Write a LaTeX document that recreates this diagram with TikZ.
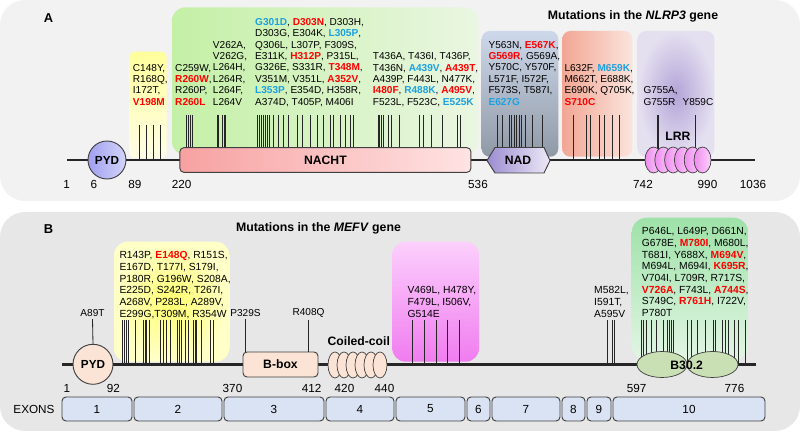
\documentclass[tikz,border=0pt]{standalone}
\usepackage{fontspec}
\setmainfont{Liberation Sans}
\usepackage{xcolor}
\usetikzlibrary{positioning}
\definecolor{PanelA}{HTML}{F2F2F2}
\definecolor{PanelB}{HTML}{E7E7E7}
\definecolor{MutRed}{HTML}{FF0000}
\definecolor{MutBlue}{HTML}{1BA1E2}
\definecolor{TickGray}{HTML}{262626}
\definecolor{EdgeGray}{HTML}{404040}
\definecolor{Peach}{HTML}{FBE4D5}
\definecolor{ExonBlue}{HTML}{DAE3F3}
\definecolor{OliveGreen}{HTML}{C9E0B4}
\definecolor{YellowA}{HTML}{FFFF9C}
\definecolor{YellowAPale}{HTML}{FFFDE6}
\definecolor{GreenAL}{HTML}{C4F0A6}
\definecolor{GreenAR}{HTML}{EAF6E2}
\definecolor{NachtL}{HTML}{F7A1A1}
\definecolor{NachtR}{HTML}{FFE3E3}
\definecolor{NadTop}{HTML}{CDD8EA}
\definecolor{NadBot}{HTML}{8F99A6}
\definecolor{NadHexL}{HTML}{9B8DD0}
\definecolor{NadHexR}{HTML}{EEE9F7}
\definecolor{SalmonL}{HTML}{F2A694}
\definecolor{SalmonR}{HTML}{FBE4DC}
\definecolor{LrrIn}{HTML}{B4A4D8}
\definecolor{LrrOut}{HTML}{E4E0F0}
\definecolor{LrrPinkL}{HTML}{EE8CEE}
\definecolor{LrrPinkR}{HTML}{FBD2FB}
\definecolor{PydBlueL}{HTML}{A0A0F0}
\definecolor{PydBlueR}{HTML}{D4D4FA}
\definecolor{YellowBIn}{HTML}{FFFF6E}
\definecolor{YellowBOut}{HTML}{FFFFC8}
\definecolor{PinkBTop}{HTML}{FCD0FC}
\definecolor{PinkBBot}{HTML}{F07CF0}
\definecolor{GreenBTop}{HTML}{9EE2A8}
\definecolor{GreenBBot}{HTML}{E2F5E4}
\newcommand{\mred}[1]{\textcolor{MutRed}{\textbf{#1}}}
\newcommand{\mblue}[1]{\textcolor{MutBlue}{\textbf{#1}}}

\begin{document}
\begin{tikzpicture}[x=0.03cm, y=-0.03cm,
    mutA/.style={anchor=north west, align=left, inner sep=0pt, font=\fontsize{8.6}{9.7}\selectfont},
    mutB/.style={anchor=north west, align=left, inner sep=0pt, font=\fontsize{8.8}{9.95}\selectfont},
    mutlabel/.style={inner sep=0pt, font=\fontsize{8.6}{10}\selectfont},
    mutline/.style={draw=TickGray, line width=0.7pt},
    backbone/.style={line width=2.4pt, black!85},
    domainbox/.style={draw=EdgeGray, line width=0.8pt, inner sep=0pt, font=\fontsize{10.4}{12}\selectfont\bfseries},
    posnum/.style={inner sep=0pt, font=\fontsize{10}{12}\selectfont},
    exonbox/.style={draw=EdgeGray, fill=ExonBlue, line width=0.8pt, rounded corners=0.12cm},
    paneltitle/.style={font=\fontsize{10.5}{12}\selectfont\bfseries}]
    \useasboundingbox (0,0) rectangle (800,432);

    % Panels
    \path[fill=PanelA, rounded corners=0.75cm] (0,0) rectangle (800,201);
    \path[fill=PanelB, rounded corners=0.75cm] (0,212) rectangle (800,431);
    \node[paneltitle, font=\fontsize{11}{13}\selectfont\bfseries] (labA) at (48.5,18.5) {A};
    \node[paneltitle, font=\fontsize{11}{13}\selectfont\bfseries] (labB) at (48.5,229) {B};
    \node[paneltitle] (titleA) at (633,16) {Mutations in the \textit{NLRP3} gene};
    \node[paneltitle] (titleB) at (318.5,228.3) {Mutations in the \textit{MEFV} gene};

    % ---------- NLRP3 ----------
    % Highlight boxes
    \path[rounded corners=0.18cm, top color=YellowA, bottom color=YellowAPale] (129.3,51.7) rectangle (166.7,158.3);
    \path[rounded corners=0.4cm, left color=GreenAL, right color=GreenAR] (172,7.3) rectangle (478.3,155);
    \path[rounded corners=0.24cm, top color=NadTop, bottom color=NadBot] (481.7,31) rectangle (558.3,156.7);
    \path[rounded corners=0.24cm, left color=SalmonL, right color=SalmonR] (562.3,31) rectangle (632.3,156.7);
    \path[rounded corners=0.24cm, inner color=LrrIn, outer color=LrrOut] (637.7,31) rectangle (714.3,156.7);

    % Mutation lists
    \node[mutA] (mutPre) at (132.7,63.8) {C148Y,\\ R168Q,\\ I172T,\\ \mred{V198M}};
    \node[mutA] (mutNa) at (175,63.8) {C259W,\\ \mred{R260W},\\ R260P,\\ \mred{R260L}};
    \node[mutA] (mutNb) at (212.7,41) {V262A,\\ V262G,\\ L264H,\\ L264R,\\ L264F,\\ L264V};
    \node[mutA] (mutNc) at (255,18.2) {\mblue{G301D}, \mred{D303N}, D303H,\\
        D303G, E304K, \mblue{L305P},\\
        Q306L, L307P, F309S,\\
        E311K, \mred{H312P}, P315L,\\
        G326E, S331R, \mred{T348M},\\
        V351M, V351L, \mred{A352V},\\
        \mblue{L353P}, E354D, H358R,\\
        A374D, T405P, M406I};
    \node[mutA] (mutNd) at (372.7,52.4) {T436A, T436I, T436P,\\
        T436N, \mblue{A439V}, \mred{A439T},\\
        A439P, F443L, N477K,\\
        \mred{I480F}, \mblue{R488K}, \mred{A495V},\\
        F523L, F523C, \mblue{E525K}};
    \node[mutA] (mutNad) at (488.3,41) {Y563N, \mred{E567K},\\
        \mred{G569R}, G569A,\\
        Y570C, Y570F,\\
        L571F, I572F,\\
        F573S, T587I,\\
        \mblue{E627G}};
    \node[mutA] (mutPost) at (564.3,63.8) {L632F, \mblue{M659K},\\ M662T, E688K,\\ E690K, Q705K,\\ \mred{S710C}};
    \node[mutA] (mutLrrA) at (643.3,86.6) {G755A,\\ G755R};
    \node[mutA] (mutLrrB) at (682.3,98) {Y859C};

    % Mutation ticks
    \foreach \x in {139,146,153,160}
        \draw[mutline] (\x,125) -- (\x,160);
    \foreach \x in {186.7,188.3,190.7,192.3,217,218.5,222.5,224,225.5,
                    257,259,261,263,265,267,269.5,273,278,283,288,297,302,310,317,323,330,333,340,345,350,353,
                    378,379.5,381,383,388,391,399,419,423,431,442,457,460}
        \draw[mutline] (\x,115) -- (\x,152);
    \foreach \x in {497.3,502,509.3,511.7,514.3,516.7,519.3,521.3,525,532.7,542.7}
        \draw[mutline] (\x,115) -- (\x,152);
    \foreach \x in {573.3,586.7,590,599,604,612.7,619.3}
        \draw[mutline] (\x,115) -- (\x,160);
    \draw[mutline, line width=1.6pt] (658,115) -- (658,155);
    \draw[mutline] (695,115) -- (695,155);

    % Backbone
    \coordinate (startA) at (67,160);
    \coordinate (endA) at (755,160);
    \draw[backbone] (startA) -- (endA);

    % Domains
    \node[domainbox, circle, minimum size=1.14cm, left color=PydBlueL, right color=PydBlueR, font=\fontsize{10}{12}\selectfont\bfseries] (pydA) at (107,160) {PYD};
    \node[domainbox, rectangle, rounded corners=0.12cm, minimum width=8.73cm, minimum height=0.74cm, left color=NachtL, right color=NachtR] (nacht) at (325.4,160) {NACHT};
    \path[draw=EdgeGray, line width=0.8pt, left color=NadHexL, right color=NadHexR] (487,160.5) -- (495,147.5) -- (544,147.5) -- (550,160.5) -- (544,173) -- (495,173) -- cycle;
    \node[domainbox, draw=none] (nad) at (518,160.5) {NAD};
    \foreach \i in {0,...,5}
        \path[draw=EdgeGray, line width=0.6pt, left color=LrrPinkL, right color=LrrPinkR] (653.5+9.8*\i,160) ellipse [x radius=0.255cm, y radius=0.39cm];
    \node[domainbox, draw=none] (lrr) at (678,136) {LRR};

    % Positions
    \foreach \x/\n in {66.7/1, 94/6, 135/89, 181.7/220, 478/536, 643/742, 707.5/990, 753/1036}
        \node[posnum] (numA\n) at (\x,184) {\n};

    % ---------- MEFV ----------
    % Highlight boxes
    \path[rounded corners=0.4cm, inner color=YellowBIn, outer color=YellowBOut] (114,241.7) rectangle (229.3,361.7);
    \path[rounded corners=0.4cm, top color=PinkBTop, bottom color=PinkBBot] (392.3,241.7) rectangle (479,361.7);
    \path[rounded corners=0.45cm, top color=GreenBTop, bottom color=GreenBBot] (631.7,217.7) rectangle (748.3,360);

    % Mutation lists
    \node[mutB] (mutEx2) at (119.3,251.3) {R143P, \mred{E148Q}, R151S,\\
        E167D, T177I, S179I,\\
        P180R, G196W, S208A,\\
        E225D, S242R, T267I,\\
        A268V, P283L, A289V,\\
        E299G,T309M, R354W};
    \node[mutB] (mutEx5) at (407.3,286.4) {V469L, H478Y,\\ F479L, I506V,\\ G514E};
    \node[mutB] (mutEx9) at (594,286.4) {M582L,\\ I591T,\\ A595V};
    \node[mutB] (mutEx10) at (641.7,227.5) {P646L, L649P, D661N,\\
        G678E, \mred{M780I}, M680L,\\
        T681I, Y688X, \mred{M694V},\\
        M694L, M694I, \mred{K695R},\\
        V704I, L709R, R717S,\\
        \mred{V726A}, F743L, \mred{A744S},\\
        S749C, \mred{R761H}, I722V,\\
        P780T};
    \node[mutlabel] (a89t) at (92.5,313) {A89T};
    \node[mutlabel] (p329s) at (245.5,313) {P329S};
    \node[mutlabel] (r408q) at (308.5,313) {R408Q};

    % Mutation ticks
    \foreach \x in {122.7,124,126.7,128,135,143.3,145,146.7,149.3,160,163.3,166.5,170,177,179.3,181,185,188.3,193.3,195,196.7,201.7,210,213.3}
        \draw[mutline] (\x,320) -- (\x,364);
    \foreach \x in {412,424,436,447,459}
        \draw[mutline] (\x,320) -- (\x,364);
    \foreach \x in {607.5,612,614.5}
        \draw[mutline] (\x,320) -- (\x,364);
    \foreach \x in {641,643,646,651,656,663,667,669,671,673,687,691,697,705,713,715,722,725,728,734,738,745}
        \draw[mutline] (\x,320) -- (\x,364);

    % Backbone
    \coordinate (startB) at (62,364.3);
    \coordinate (endB) at (756,364.3);
    \draw[backbone] (startB) -- (endB);

    % Domains
    \node[domainbox, circle, minimum size=1.2cm, fill=Peach, font=\fontsize{10}{12}\selectfont\bfseries] (pydB) at (93,364.3) {PYD};
    \node[domainbox, rectangle, rounded corners=0.12cm, minimum width=2.25cm, minimum height=0.75cm, fill=Peach] (bbox) at (280.5,364.5) {B-box};
    \foreach \i in {0,...,5}
        \path[draw=EdgeGray, line width=0.6pt, fill=Peach] (335+9*\i,365) ellipse [x radius=0.21cm, y radius=0.39cm];
    \node[domainbox, draw=none] (coil) at (358.8,341) {Coiled-coil};
    \path[draw=EdgeGray, line width=0.6pt, fill=OliveGreen] (662,364.5) ellipse [x radius=0.75cm, y radius=0.39cm];
    \path[draw=EdgeGray, line width=0.6pt, fill=OliveGreen] (712.5,364.5) ellipse [x radius=0.765cm, y radius=0.39cm];
    \node[domainbox, draw=none] (b30) at (686.7,365) {B30.2};

    % Single mutations
    \draw[mutline] ([yshift=-2pt]a89t.south) -- (pydB.north);
    \draw[mutline] ([yshift=-2pt]p329s.south) -- (p329s.south |- bbox.north);
    \draw[mutline] ([yshift=-2pt]r408q.south) -- (r408q.south |- bbox.north);

    % Positions
    \foreach \x/\n in {67/1, 113.5/92, 232.5/370, 311.7/412, 344.5/420, 384.5/440, 636.7/597, 734.5/776}
        \node[posnum] (numB\n) at (\x,388) {\n};

    % Exons
    \node[posnum] (exons) at (34,409) {EXONS};
    \foreach \xl/\xr/\num in {62/132/1, 134/222/2, 224/324/3, 326/394/4, 396/465/5, 467/490/6, 492/560/7, 562/585/8, 587/611/9, 613/765/10} {
        \path[exonbox] (\xl,397) rectangle (\xr,421);
        \node[posnum] (exon\num) at ({(\xl+\xr)/2},409) {\num};
    }
\end{tikzpicture}
\end{document}
